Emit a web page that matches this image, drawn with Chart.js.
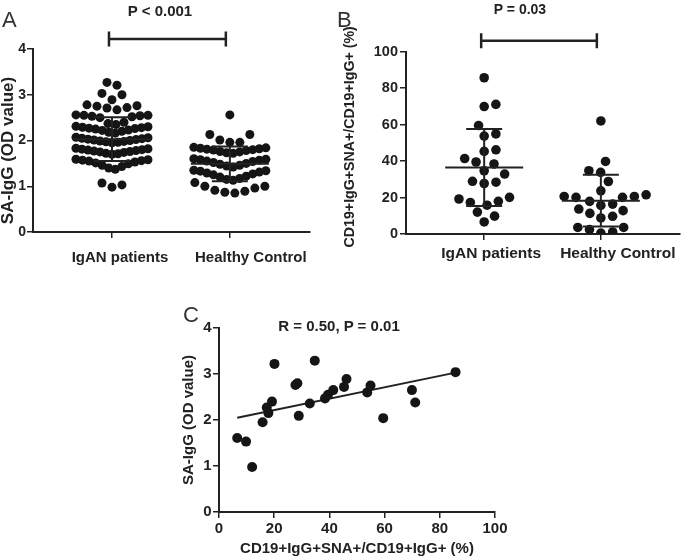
<!DOCTYPE html>
<html>
<head>
<meta charset="utf-8">
<title>SA-IgG and CD19+IgG+SNA+ B cells</title>
<script src="https://cdn.jsdelivr.net/npm/chart.js@4.4.1/dist/chart.umd.min.js"></script>
<style>
  body { margin: 0; background: #fff; }
  #fig { position: relative; width: 685px; height: 557px; overflow: hidden;
         font-family: "Liberation Sans", Arial, sans-serif; color: #222; }
  #fig canvas { position: absolute; }
  .txt { position: absolute; white-space: nowrap; line-height: 1; }
  .panel { font-size: 22px; color: #333; }
  .stat { font-weight: bold; transform: translateX(-50%); }
</style>
</head>
<body>
<div id="fig">
  <canvas id="chartA" width="340" height="280" style="left:0px;top:0px"></canvas>
  <canvas id="chartB" width="345" height="280" style="left:340px;top:0px"></canvas>
  <canvas id="chartC" width="340" height="262" style="left:170px;top:295px"></canvas>
  <div class="txt panel" style="left:2px;top:9px">A</div>
  <div class="txt panel" style="left:337px;top:9px">B</div>
  <div class="txt panel" style="left:183px;top:304px">C</div>
  <div class="txt stat" style="left:160px;top:3px;font-size:15px">P &lt; 0.001</div>
  <div class="txt stat" style="left:520px;top:2px;font-size:14px">P = 0.03</div>
  <div class="txt stat" style="left:339px;top:318px;font-size:15px">R = 0.50, P = 0.01</div>
</div>
<script>
const FONT = '"Liberation Sans", Arial, sans-serif';
const INK = '#222';
const DOT = '#151515';

const groups = ['IgAN patients', 'Healthy Control'];

// panel A - SA-IgG (OD value)
const saIgGIgAN = [0.98, 1.03, 1.07,
  1.37, 1.40, 1.43, 1.46, 1.49, 1.51, 1.53, 1.55, 1.56, 1.57, 1.58, 1.59,
  1.70, 1.71, 1.72, 1.74, 1.75, 1.76, 1.77, 1.78, 1.79, 1.80, 1.81, 1.82, 1.83,
  1.95, 1.96, 1.97, 1.98, 1.99, 2.00, 2.01, 2.02, 2.03, 2.04, 2.05, 2.06, 2.07,
  2.16, 2.18, 2.20, 2.22, 2.23, 2.25, 2.26, 2.27, 2.28, 2.29, 2.30, 2.31,
  2.35, 2.37, 2.40, 2.50, 2.52, 2.53, 2.54, 2.55, 2.55, 2.56,
  2.67, 2.71, 2.72, 2.75, 2.76, 2.78,
  2.89, 3.00, 3.03, 3.21, 3.27];
const saIgGHC = [0.85, 0.87, 0.89, 0.91, 0.96, 1.00, 1.00, 1.08,
  1.13, 1.15, 1.17, 1.20, 1.22, 1.25, 1.27, 1.29, 1.31, 1.33, 1.34, 1.35,
  1.42, 1.44, 1.46, 1.48, 1.50, 1.52, 1.54, 1.55, 1.57, 1.58, 1.59, 1.60,
  1.72, 1.73, 1.75, 1.76, 1.78, 1.79, 1.80, 1.81, 1.82, 1.83, 1.84, 1.85,
  1.96, 1.96, 2.01, 2.13, 2.13, 2.56];
const meanA = [2.03, 1.49];
const sdA = [0.48, 0.38];
const yTicksA = [0, 1, 2, 3, 4];
const sigA = 4.22;

// panel B - CD19+IgG+SNA+/CD19+IgG+ (%)
const snaIgAN = [6.6, 9.8, 12.0, 15.8, 17.3, 17.9, 19.2, 20.1, 27.7, 28.4, 28.9, 32.9,
  34.7, 38.4, 39.5, 41.4, 45.3, 46.2, 53.7, 54.9, 59.5, 69.9, 71.1, 85.7];
const snaHC = [62.0, 39.8, 34.7, 33.8, 28.8, 23.7, 21.5, 20.6, 20.6, 20.1, 20.1, 17.9,
  16.4, 15.7, 13.7, 12.8, 11.3, 9.7, 8.8, 3.6, 3.6, 2.4, 1.1, 0.5];
const meanB = [36.5, 18.3];
const sdB = [21.1, 14.2];
const yTicksB = [0, 20, 40, 60, 80, 100];
const sigB = 106;

// panel C - same patients, SA-IgG against snaIgAN
const saIgGPaired = [1.61, 1.53, 0.98, 1.95, 2.27, 2.15, 2.40, 3.22, 2.76, 2.80, 2.09, 2.36,
  3.29, 2.47, 2.55, 2.65, 2.72, 2.89, 2.60, 2.75, 2.04, 2.65, 2.38, 3.04];
const fitX = [6.6, 85.7];
const fitY = [2.05, 3.03];
const xTicksC = [0, 20, 40, 60, 80, 100];
const yTicksC = [0, 1, 2, 3, 4];

Chart.defaults.font.family = FONT;
Chart.defaults.color = INK;

// graphpad style rows: values binned, lowest in the middle
function rows(base, w, sMax, maxW) {
  return function (vals) {
    const bins = {};
    vals.forEach(v => {
      const k = Math.floor((v - base) / w);
      (bins[k] = bins[k] || []).push(v);
    });
    const out = [];
    Object.values(bins).forEach(r => {
      r.sort((a, b) => a - b);
      const n = r.length;
      const s = n > 1 ? Math.min(sMax, maxW / (n - 1)) : 0;
      r.forEach((v, j) => {
        let slot;
        if (n % 2) slot = j === 0 ? 0 : (j % 2 ? 1 : -1) * Math.ceil(j / 2);
        else slot = (j % 2 ? -1 : 1) * (Math.floor(j / 2) + 0.5);
        out.push({ v: v, dx: slot * s });
      });
    });
    return out;
  };
}

// simple beeswarm, d = min distance in px
function swarm(d) {
  return function (vals, ys) {
    const placed = [];
    vals.slice().sort((a, b) => a - b).forEach(v => {
      const py = ys.getPixelForValue(v);
      const near = placed.filter(p => Math.abs(p.py - py) < d);
      const cands = [0];
      near.forEach(p => {
        const h = Math.sqrt(d * d - (p.py - py) * (p.py - py));
        cands.push(p.dx + h, p.dx - h);
      });
      cands.sort((a, b) => Math.abs(a) - Math.abs(b) || b - a);
      const dx = cands.find(c => near.every(p => (p.dx - c) ** 2 + (p.py - py) ** 2 >= d * d - 0.01));
      placed.push({ v: v, py: py, dx: dx });
    });
    return placed;
  };
}

function place(chart, sets, layouts) {
  const xs = chart.scales.x, ys = chart.scales.y;
  const unit = xs.getPixelForValue(1) - xs.getPixelForValue(0);
  sets.forEach((vals, i) => {
    chart.data.datasets[i].data = layouts[i](vals, ys).map(p => ({ x: i + p.dx / unit, y: p.v }));
  });
  chart.update('none');
}

function meanSd(mean, sd) {
  return {
    id: 'meanSd',
    afterDatasetsDraw(chart) {
      const { ctx, scales: { x, y } } = chart;
      ctx.save();
      ctx.strokeStyle = INK;
      ctx.lineWidth = 2;
      mean.forEach((m, i) => {
        const cx = x.getPixelForValue(i);
        const ym = y.getPixelForValue(m);
        const yt = y.getPixelForValue(m + sd[i]);
        const yb = y.getPixelForValue(m - sd[i]);
        ctx.beginPath();
        ctx.moveTo(cx - 39, ym); ctx.lineTo(cx + 39, ym);
        ctx.moveTo(cx, yt); ctx.lineTo(cx, yb);
        ctx.moveTo(cx - 18, yt); ctx.lineTo(cx + 18, yt);
        ctx.moveTo(cx - 18, yb); ctx.lineTo(cx + 18, yb);
        ctx.stroke();
      });
      ctx.restore();
    }
  };
}

// category labels under the axis + significance bracket
function decor(shift, dy, size, sigVal) {
  return {
    id: 'decor',
    afterDraw(chart) {
      const { ctx, scales: { x, y } } = chart;
      ctx.save();
      ctx.fillStyle = INK;
      ctx.font = 'bold ' + size + 'px ' + FONT;
      ctx.textAlign = 'center';
      ctx.textBaseline = 'alphabetic';
      groups.forEach((g, i) => ctx.fillText(g, x.getPixelForValue(i) + shift[i], x.top + dy));
      const yb = y.getPixelForValue(sigVal);
      const x0 = x.getPixelForValue(0) - 3, x1 = x.getPixelForValue(1) - 4;
      ctx.strokeStyle = INK;
      ctx.lineWidth = 2.5;
      ctx.beginPath();
      ctx.moveTo(x0, yb); ctx.lineTo(x1, yb);
      ctx.moveTo(x0, yb - 7.5); ctx.lineTo(x0, yb + 7.5);
      ctx.moveTo(x1, yb - 7.5); ctx.lineTo(x1, yb + 7.5);
      ctx.stroke();
      ctx.restore();
    }
  };
}

// rotated y title, shifted off the chart-area centre a little like the original
function yTitle(text, size, cx, shiftY) {
  return {
    id: 'yTitle',
    afterDraw(chart) {
      const { ctx, chartArea } = chart;
      ctx.save();
      ctx.translate(cx, (chartArea.top + chartArea.bottom) / 2 + shiftY);
      ctx.rotate(-Math.PI / 2);
      ctx.fillStyle = INK;
      ctx.font = 'bold ' + size + 'px ' + FONT;
      ctx.textAlign = 'center';
      ctx.textBaseline = 'middle';
      ctx.fillText(text, 0, 0);
      ctx.restore();
    }
  };
}

function axisStyle(extra) {
  return Object.assign({
    grid: { drawOnChartArea: false, drawTicks: true, tickLength: 6, color: INK, lineWidth: 1.5 },
    border: { display: true, color: INK, width: 2 }
  }, extra);
}

function dotSet(r) {
  return { data: [], pointRadius: r, pointHoverRadius: r, backgroundColor: DOT, borderWidth: 0 };
}

function groupChart(id, o) {
  return new Chart(document.getElementById(id), {
    type: 'scatter',
    data: { datasets: [dotSet(o.r), dotSet(o.r)] },
    options: {
      responsive: false,
      animation: false,
      layout: { padding: o.pad },
      plugins: { legend: { display: false }, tooltip: { enabled: false } },
      scales: {
        x: axisStyle({
          type: 'linear', min: -0.67, max: 1.68,
          afterBuildTicks: s => { s.ticks = groups.map((g, i) => ({ value: i })); },
          afterFit: s => { s.height = o.xh; },
          ticks: { display: false }
        }),
        y: axisStyle({
          min: o.yTicks[0], max: o.yTicks[o.yTicks.length - 1],
          afterBuildTicks: s => { s.ticks = o.yTicks.map(v => ({ value: v })); },
          afterFit: s => { s.width = o.yw; },
          ticks: { color: INK, padding: o.tickPad, font: { size: o.tickSize, weight: 'bold' }, callback: v => String(v) }
        })
      }
    },
    plugins: [meanSd(o.mean, o.sd), decor(o.shift, o.dy, o.labelSize, o.sig),
              yTitle(o.yTitle, o.titleSize, o.titleX, o.titleShift)]
  });
}

const chartA = groupChart('chartA', {
  r: 4.5, pad: { left: 0, top: 49, right: 30, bottom: 0 }, xh: 48, yw: 33,
  yTicks: yTicksA, tickPad: 1, tickSize: 14,
  yTitle: 'SA-IgG (OD value)', titleSize: 17, titleX: 8.5, titleShift: 10,
  mean: meanA, sd: sdA, shift: [8, 21], dy: 29.5, labelSize: 15, sig: sigA
});
place(chartA, [saIgGIgAN, saIgGHC], [rows(0.165, 0.24, 10, 72), rows(0.84, 0.26, 10, 72)]);

const chartB = groupChart('chartB', {
  r: 4.8, pad: { left: 0, top: 51.7, right: 2, bottom: 0 }, xh: 46, yw: 66,
  yTicks: yTicksB, tickPad: 2, tickSize: 14.5,
  yTitle: 'CD19+IgG+SNA+/CD19+IgG+ (%)', titleSize: 14.2, titleX: 10.5, titleShift: -6,
  mean: meanB, sd: sdB, shift: [7, 17], dy: 24, labelSize: 15.5, sig: sigB
});
place(chartB, [snaIgAN, snaHC], [swarm(12), swarm(12)]);

new Chart(document.getElementById('chartC'), {
  type: 'scatter',
  data: {
    datasets: [
      Object.assign(dotSet(5), { data: snaIgAN.map((v, i) => ({ x: v, y: saIgGPaired[i] })) }),
      { type: 'line', data: fitX.map((v, i) => ({ x: v, y: fitY[i] })), borderColor: INK,
        borderWidth: 2, pointRadius: 0, fill: false }
    ]
  },
  options: {
    responsive: false,
    animation: false,
    layout: { padding: { left: 0, top: 33, right: 15, bottom: 0 } },
    plugins: { legend: { display: false }, tooltip: { enabled: false } },
    scales: {
      x: axisStyle({
        type: 'linear', min: xTicksC[0], max: xTicksC[xTicksC.length - 1],
        afterBuildTicks: s => { s.ticks = xTicksC.map(v => ({ value: v })); },
        afterFit: s => { s.height = 45; },
        ticks: { color: INK, padding: 2, maxRotation: 0, font: { size: 15, weight: 'bold' }, callback: v => String(v) },
        title: { display: true, text: 'CD19+IgG+SNA+/CD19+IgG+ (%)', color: INK,
                 font: { size: 15, weight: 'bold', lineHeight: 1 }, padding: { top: 0, bottom: 0.5 } }
      }),
      y: axisStyle({
        min: yTicksC[0], max: yTicksC[yTicksC.length - 1],
        afterBuildTicks: s => { s.ticks = yTicksC.map(v => ({ value: v })); },
        afterFit: s => { s.width = 49; },
        ticks: { color: INK, padding: 1.5, font: { size: 15, weight: 'bold' }, callback: v => String(v) },
        title: { display: true, text: 'SA-IgG (OD value)', color: INK,
                 font: { size: 15, weight: 'bold', lineHeight: 1 }, padding: { top: 11.5, bottom: 0 } }
      })
    }
  }
});
</script>
</body>
</html>
